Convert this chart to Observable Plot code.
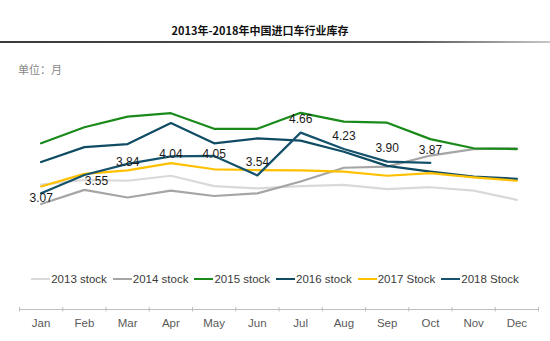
<!DOCTYPE html>
<html><head><meta charset="utf-8">
<script src="https://cdn.jsdelivr.net/npm/d3@7"></script>
<script src="https://cdn.jsdelivr.net/npm/@observablehq/plot@0.6"></script>
<style>
body{margin:0;background:#fff;}
#wrap{position:relative;width:550px;height:341px;overflow:hidden;font-family:"Liberation Sans",Arial,sans-serif;background:#fff;}
#title{position:absolute;top:21px;left:-15px;width:550px;text-align:center;font-weight:bold;font-size:11px;font-family:"Noto Sans CJK SC",sans-serif;color:#111;line-height:18px;}
#rule{position:absolute;top:41px;left:0;width:550px;height:2px;background:linear-gradient(to right,#3a3a3a 0%,#555 75%,#c8c8c8 100%);}
#unit{position:absolute;top:61px;left:18px;font-size:11px;font-family:"Noto Sans CJK SC",sans-serif;color:#888;line-height:16px;}
#chart{position:absolute;top:80px;left:0;}
#legend{position:absolute;top:271px;left:0;width:550px;display:flex;justify-content:center;align-items:center;font-size:11.5px;color:#3a3a3a;line-height:16px;}
#legend .item{display:flex;align-items:center;margin:0 3px;}
#legend .sw{display:inline-block;width:19px;height:2px;margin-right:1px;}
</style></head>
<body>
<div id="wrap">
  <div id="title"></div>
  <div id="rule"></div>
  <div id="unit"></div>
  <div id="chart"></div>
  <div id="legend"></div>
</div>
<script>
const titleText = "2013年-2018年中国进口车行业库存";
const unitText = "单位：月";
const months = ["Jan","Feb","Mar","Apr","May","Jun","Jul","Aug","Sep","Oct","Nov","Dec"];
const seriesNames = ["2013 stock","2014 stock","2015 stock","2016 stock","2017 Stock","2018 Stock"];
const seriesColors = ["#d9d9d9","#a5a5a5","#1a8a1a","#0f4c63","#ffc000","#15526c"];
const stock2013 = [3.30,3.42,3.40,3.53,3.26,3.20,3.26,3.29,3.18,3.23,3.14,2.90];
const stock2014 = [2.79,3.16,2.96,3.14,3.00,3.07,3.38,3.74,3.77,4.06,4.23,4.25];
const stock2015 = [4.38,4.80,5.08,5.17,4.76,4.76,5.18,4.95,4.92,4.49,4.25,4.23];
const stock2016 = [3.89,4.28,4.36,4.91,4.38,4.51,4.45,4.16,3.79,3.64,3.51,3.45];
const stock2017 = [3.25,3.58,3.67,3.86,3.70,3.68,3.67,3.64,3.53,3.60,3.49,3.40];
const stock2018 = [3.07,3.55,3.84,4.04,4.05,3.54,4.66,4.23,3.90,3.87];

document.getElementById("title").textContent = titleText;
document.getElementById("unit").textContent = unitText;

const allSeries = [stock2013,stock2014,stock2015,stock2016,stock2017,stock2018];
const rows = [];
allSeries.forEach((vals, s) => vals.forEach((v, i) => rows.push({x: i + 0.5, value: v, series: seriesNames[s]})));
const labels2018 = stock2018.map((v, i) => ({x: i + 0.5, value: v, i}));

const labelStyle = {x: "x", y: "value", text: d => d.value.toFixed(2), fontSize: 12, fill: "#1a1a1a"};

const chart = Plot.plot({
  width: 550,
  height: 261,
  marginTop: 1,
  marginBottom: 31,
  marginLeft: 19,
  marginRight: 12,
  style: {fontFamily: "'Liberation Sans', Arial, sans-serif", background: "transparent", overflow: "visible"},
  x: {domain: [0, 12], axis: null},
  y: {domain: [0, 6], axis: null},
  color: {domain: seriesNames, range: seriesColors},
  marks: [
    Plot.ruleY([0], {stroke: "#bfbfbf", strokeWidth: 1, dy: -1}),
    Plot.ruleX(d3.range(13), {x: d => d, y1: -0.04, y2: 0.08, stroke: "#bfbfbf"}),
    Plot.text(months, {x: (d, i) => i + 0.5, y: () => 0, text: d => d, dy: 13, fontSize: 11.5, fill: "#595959"}),
    Plot.line(rows, {x: "x", y: "value", z: "series", stroke: "series", strokeWidth: 2.2, strokeLinejoin: "round"}),
    Plot.text(labels2018, {...labelStyle, filter: d => d.i === 0, dy: 5}),
    Plot.text(labels2018, {...labelStyle, filter: d => d.i === 1, dx: 12, dy: 6}),
    Plot.text(labels2018, {...labelStyle, filter: d => d.i >= 2 && d.i <= 4, dy: -2}),
    Plot.text(labels2018, {...labelStyle, filter: d => d.i >= 5, dy: -13})
  ]
});
document.getElementById("chart").appendChild(chart);

const legend = document.getElementById("legend");
seriesNames.forEach((name, i) => {
  const item = document.createElement("span");
  item.className = "item";
  const sw = document.createElement("span");
  sw.className = "sw";
  sw.style.background = seriesColors[i];
  const t = document.createElement("span");
  t.textContent = name;
  item.appendChild(sw);
  item.appendChild(t);
  legend.appendChild(item);
});
</script>
</body></html>
